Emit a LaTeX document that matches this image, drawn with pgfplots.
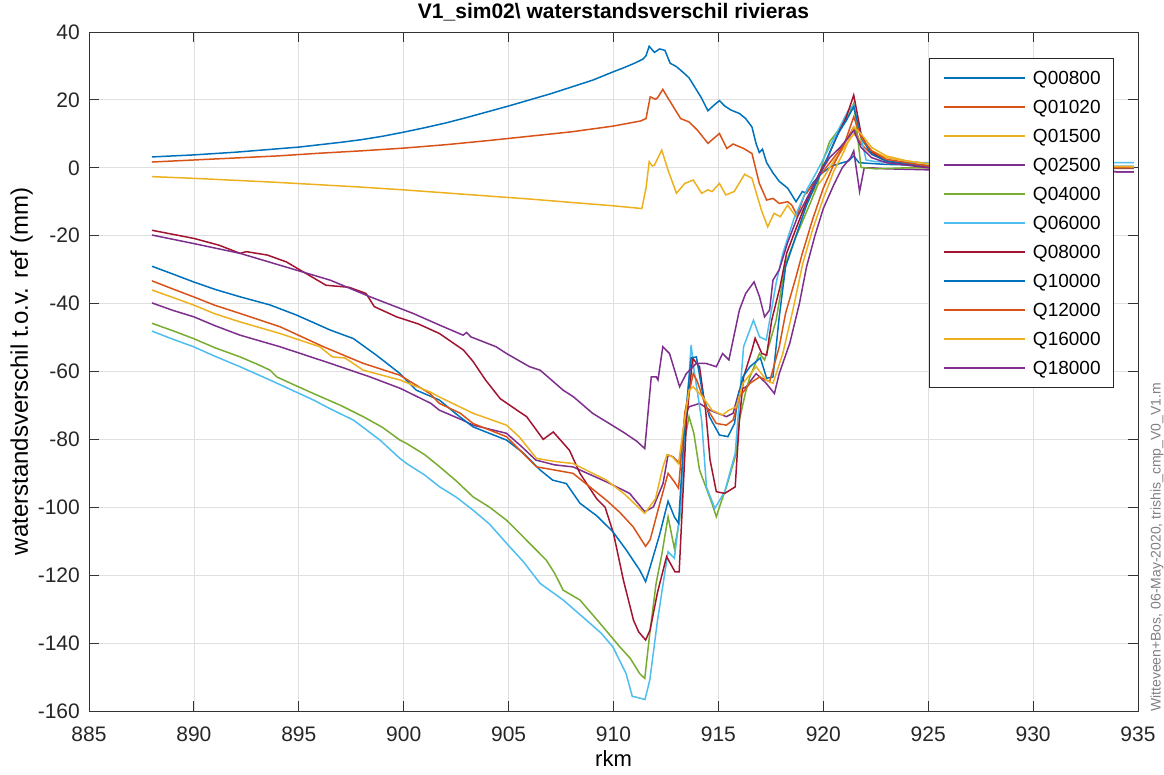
\documentclass[border=0pt]{standalone}
\usepackage{fontspec}
\setmainfont{Liberation Sans}
\usepackage{pgfplots}
\pgfplotsset{compat=1.18}
\definecolor{c1}{rgb}{0,0.447,0.741}
\definecolor{c2}{rgb}{0.85,0.325,0.098}
\definecolor{c3}{rgb}{0.929,0.694,0.125}
\definecolor{c4}{rgb}{0.494,0.184,0.556}
\definecolor{c5}{rgb}{0.466,0.674,0.188}
\definecolor{c6}{rgb}{0.301,0.745,0.933}
\definecolor{c7}{rgb}{0.635,0.078,0.184}
\definecolor{gridgray}{rgb}{0.875,0.875,0.875}
\definecolor{axgray}{rgb}{0.2,0.2,0.2}
\begin{document}
\begin{tikzpicture}
\begin{axis}[
  width=1049pt, height=679pt, scale only axis,
  xmin=885, xmax=935, ymin=-160, ymax=40,
  xtick={885,890,...,935}, ytick={-160,-140,...,40},
  grid=major, major grid style={color=gridgray, line width=0.8pt},
  axis line style={color=axgray, line width=0.9pt},
  tick style={color=axgray, line width=0.9pt},
  tick align=inside, major tick length=10pt, tick pos=both,
  /pgf/number format/assume math mode=true,
  ticklabel style={font=\fontsize{21}{25}\selectfont, inner sep=0pt, text=black!85},
  xticklabel shift=16pt, yticklabel shift=9pt,
  title={\bfseries V1\_sim02\textbackslash{} waterstandsverschil rivieras},
  title style={font=\fontsize{21}{25}\selectfont, at={(0.5,1)}, anchor=base, yshift=7pt, inner sep=0pt},
  xlabel={rkm},
  xlabel style={font=\fontsize{22}{26}\selectfont, at={(axis description cs:0.5,0)}, anchor=base, yshift=-55pt, inner sep=0pt},
  ylabel={waterstandsverschil t.o.v. ref (mm)},
  ylabel style={font=\fontsize{24}{28}\selectfont, at={(axis description cs:-0.0582,0.5)}, anchor=base, inner sep=0pt},
  legend cell align=left,
  legend image code/.code={\draw[#1] (0pt,0pt) -- (81pt,0pt);},
  legend style={at={(0.9771,0.9617)}, anchor=north east, draw=black!85, line width=0.8pt, fill=white,
    font=\fontsize{19}{22}\selectfont, inner xsep=13pt, inner ysep=12.5pt, row sep=15pt, column sep=7.7pt,
    nodes={inner sep=0pt, text height=14pt, text depth=0pt}},
]
\addplot[c1, line width=1.5pt] coordinates {(888.0,3.2) (889,3.5) (890,3.8) (891,4.2) (892,4.6) (893,5.1) (894,5.6) (895,6.1) (896,6.8) (897,7.5) (898,8.3) (899,9.3) (900,10.5) (901,11.8) (902,13.2) (903,14.8) (904,16.5) (905,18.2) (906,20.0) (907,21.8) (908,23.8) (909,25.8) (910,28.3) (910.5,29.5) (911.0,30.8) (911.4,32.0) (911.55,33) (911.7,35.8) (911.95,34.0) (912.2,35.0) (912.45,34.6) (912.7,30.8) (913.0,29.8) (913.3,28.2) (913.6,26.5) (913.9,23.5) (914.2,20.5) (914.5,16.8) (914.8,18.5) (915.05,19.8) (915.3,18.2) (915.6,17.0) (916.0,16.0) (916.3,14.5) (916.6,12.0) (916.8,7) (916.95,4.5) (917.1,5.5) (917.3,1.5) (917.6,-1.5) (917.9,-4.0) (918.3,-6.0) (918.7,-10.0) (919.0,-7.0) (919.2,-7.5) (919.5,-4.5) (919.9,-1.7) (920.4,0.5) (920.8,1.3) (921.2,2.0) (921.45,3.5) (921.7,1.5) (922.2,1.3) (923,1.0) (925,0.7) (930,0.5) (934.8,0.4)};
\addplot[c2, line width=1.5pt] coordinates {(888.0,1.7) (890,2.3) (892,2.9) (894,3.5) (896,4.3) (898,5.0) (900,5.8) (902,6.8) (904,8.0) (906,9.3) (908,10.6) (910,12.3) (911.3,13.8) (911.55,14.5) (911.75,20.9) (912.0,20.2) (912.1,20.6) (912.35,23.1) (912.6,20.5) (912.85,18.0) (913.2,14.5) (913.6,13.5) (914.0,11.1) (914.5,7.2) (915.05,10.1) (915.4,5.7) (915.7,7.0) (916.2,5.7) (916.6,4.2) (916.95,-4.6) (917.3,-9.5) (917.6,-9) (917.9,-10.5) (918.3,-10.0) (918.5,-11) (918.75,-14) (919.1,-8) (919.5,-5) (920.0,-1) (920.5,3) (921.0,7) (921.45,12) (921.8,7) (922.3,4) (923,2) (925,0.6) (930,0.2) (934.8,0.1)};
\addplot[c3, line width=1.5pt] coordinates {(888.0,-2.6) (890,-3.1) (892,-3.7) (894,-4.3) (896,-5.0) (898,-5.7) (900,-6.5) (902,-7.4) (904,-8.3) (906,-9.2) (908,-10.2) (910,-11.2) (911.35,-12) (911.55,-6) (911.7,1.8) (911.85,0.5) (911.95,0.8) (912.3,5.2) (912.6,-0.7) (913.0,-7.5) (913.4,-4.6) (913.8,-3.6) (914.2,-7.5) (914.5,-6.5) (914.7,-7) (915.05,-4.6) (915.35,-8) (915.75,-7) (916.25,-1.9) (916.6,-3.1) (917.05,-12.5) (917.35,-17.4) (917.65,-13.4) (917.95,-14.4) (918.3,-11) (918.7,-14.4) (919.1,-12) (919.5,-7) (920,-3) (920.5,2) (921,6) (921.45,10) (921.8,8) (922.3,5) (923,3) (924,2) (925,1.2) (930,0.6) (934.8,0.3)};
\addplot[c4, line width=1.5pt] coordinates {(888.0,-39.8) (889,-42) (890,-43.9) (891,-46.5) (892.2,-49.3) (894.1,-52.7) (896.5,-57.6) (898.4,-61.6) (899.85,-65) (901.3,-69.4) (901.7,-71.4) (902.8,-74.3) (903.3,-75.8) (904.9,-78.2) (905.6,-82) (906.3,-86.1) (907.2,-87.5) (908.07,-88.1) (909.66,-92.5) (910.77,-95.9) (911.49,-101.3) (911.9,-99.9) (912.36,-93) (912.6,-84.6) (912.83,-85.1) (913.12,-86.9) (913.3,-80) (913.4,-73.3) (913.6,-70.4) (914.1,-69.4) (914.6,-71.4) (915.38,-73.3) (915.7,-72.3) (916.0,-65.5) (916.33,-64.5) (916.8,-60.6) (917.28,-63.5) (917.67,-66.5) (917.9,-60.6) (918.4,-51.7) (918.86,-40) (919.2,-29.2) (919.6,-20) (920.0,-12) (920.5,-5) (920.9,0) (921.3,3) (921.45,5) (921.73,-7) (921.95,0) (922.3,0) (923,-0.3) (925,-0.6) (930,-1.0) (934.8,-1.2)};
\addplot[c5, line width=1.5pt] coordinates {(888,-45.8) (889,-48) (889.98,-50.3) (891,-53) (892.2,-55.7) (893.0,-57.8) (893.63,-59.6) (893.95,-61.6) (894.8,-64) (895.7,-66.5) (897,-70) (898.07,-73.3) (899,-76.5) (899.82,-80.2) (900.14,-81.2) (901.0,-84.5) (901.72,-88.1) (902.5,-92.2) (903.3,-96.9) (904.1,-100) (904.9,-103.8) (905.5,-107.5) (906.0,-110.6) (906.8,-115.6) (907.2,-119.5) (907.6,-124.4) (908.4,-127.3) (909.36,-134.2) (910.3,-141.1) (910.8,-144.5) (911.25,-149) (911.49,-150.4) (911.73,-137.1) (912.03,-122.4) (912.3,-114) (912.6,-102.8) (912.9,-112.1) (913.15,-103.8) (913.4,-80) (913.6,-73.3) (913.83,-78.2) (914.1,-89) (914.4,-94) (914.7,-99) (914.9,-102.8) (915.1,-99) (915.38,-94) (915.85,-84.1) (916.0,-74.3) (916.3,-66) (916.5,-61.6) (916.96,-54.7) (917.2,-56.6) (917.44,-51.7) (917.75,-44.9) (918.2,-28.2) (918.7,-20.3) (919.37,-10.5) (919.7,-5.6) (920.0,2.3) (920.3,7.7) (920.6,10.1) (921.1,14) (921.45,19) (921.8,0.1) (922.5,-0.3) (924,0) (930,0) (934.8,0)};
\addplot[c6, line width=1.5pt] coordinates {(888,-48.1) (889,-50.5) (889.98,-52.7) (891,-55.5) (892.2,-58.6) (893.8,-63) (895.7,-68.4) (896.5,-71) (897.6,-74.3) (898.87,-80.2) (899.82,-85.6) (900.14,-87.1) (901,-90.5) (901.72,-94) (902.5,-97) (903.3,-100.8) (904.1,-105) (904.9,-110.6) (905.7,-116) (906.5,-122.4) (907.6,-127.3) (908.7,-133.2) (909.4,-137) (909.97,-141.1) (910.6,-149) (910.9,-155.8) (911.0,-155.8) (911.5,-156.6) (911.73,-150.9) (912.1,-133.2) (912.6,-113.1) (912.9,-115) (913.2,-100) (913.5,-70) (913.7,-52.2) (913.85,-60) (914.2,-74.3) (914.43,-94) (914.83,-100.3) (915.3,-95.4) (915.8,-84.1) (916.2,-52.7) (916.67,-44.9) (916.96,-49.8) (917.28,-50.7) (917.75,-34) (918.07,-25.2) (918.6,-15) (919.2,-6.6) (919.7,-1) (920.2,5) (920.7,11) (921.2,17) (921.45,18.4) (922.04,2.3) (922.5,1.8) (925,1.5) (930,1.5) (934.8,1.5)};
\addplot[c7, line width=1.5pt] coordinates {(888,-18.4) (889,-19.6) (890,-20.8) (891.2,-22.8) (892.2,-25.2) (892.5,-24.7) (893.5,-25.7) (894.4,-27.7) (895.06,-30.1) (896.3,-34.6) (897.4,-35.2) (898.2,-37) (898.6,-40.9) (899.66,-43.9) (900.7,-46) (901.7,-48.8) (902.85,-53.7) (903.3,-57) (903.9,-62.5) (904.6,-68) (905.4,-71.4) (905.86,-73.3) (906.65,-80) (907.13,-77.8) (907.9,-83.2) (908.4,-90) (909.2,-97.5) (909.6,-100) (910,-107.7) (910.47,-121.4) (910.95,-133.2) (911.2,-136.7) (911.53,-139.1) (911.74,-136.2) (912.1,-125) (912.53,-114.5) (912.93,-119) (913.13,-119) (913.48,-74.3) (913.77,-56.1) (914.1,-58.6) (914.4,-72) (914.6,-86) (914.9,-95.4) (915.3,-95.9) (915.8,-94) (916.0,-74.3) (916.2,-61.6) (916.6,-53.7) (916.75,-50.2) (917.07,-54.7) (917.3,-55.2) (917.54,-44.9) (917.94,-35) (918.25,-25.2) (918.73,-17.4) (919.2,-10) (919.7,-3) (920.2,3) (920.7,10) (921.1,15) (921.45,21.4) (921.8,10) (922.2,5) (923,2) (924,1) (925,0.3) (930,0) (934.8,-0.2)};
\addplot[c1, line width=1.5pt] coordinates {(888,-29) (889,-31.3) (889.98,-33.6) (891,-35.8) (892.2,-38) (893.63,-40.4) (894.9,-43.4) (896.5,-47.8) (897.6,-50.3) (898.7,-55.2) (899.82,-60.6) (900.6,-65.5) (901.7,-68.4) (902.5,-72.5) (903.3,-76.3) (904.9,-80.2) (905.7,-84) (906.5,-89) (907.1,-92) (907.75,-93) (908.4,-98.8) (909.2,-102.5) (909.97,-107.2) (910.6,-112.5) (911.25,-118.5) (911.53,-121.9) (911.75,-117.5) (912.2,-108) (912.6,-98.2) (912.9,-102.8) (913.1,-104.7) (913.4,-75) (913.7,-56) (913.95,-55.7) (914.25,-66.5) (914.57,-73.3) (915.05,-78.7) (915.45,-79.2) (915.77,-75.3) (915.93,-67.5) (916.17,-61.6) (916.5,-58.6) (917.0,-56) (917.3,-62) (917.6,-61.6) (917.9,-43.9) (918.2,-29.2) (918.7,-20) (919.2,-11) (919.7,-4) (920.2,3) (920.7,10) (921.1,14) (921.45,18) (921.8,9) (922.3,4) (923,2) (925,0.5) (930,0) (934.8,0)};
\addplot[c2, line width=1.5pt] coordinates {(888,-33.3) (889,-35.7) (889.98,-38) (891,-40.5) (892.2,-42.9) (894.1,-46.8) (896.17,-52.7) (898.07,-57.6) (899.82,-61.1) (901.25,-66.5) (901.7,-69.4) (902.7,-72.3) (903.3,-75.3) (904.9,-79.2) (906.33,-88.1) (907,-88.8) (908.07,-90) (909.66,-97.9) (910.3,-101.5) (910.93,-105.7) (911.53,-111.5) (911.75,-109.5) (912.2,-99) (912.6,-90) (912.9,-92.5) (913.1,-94.4) (913.4,-72) (913.8,-60.6) (914.0,-63) (914.4,-70.4) (914.9,-75.3) (915.38,-75.8) (915.7,-74.3) (916,-67.5) (916.5,-63.5) (916.96,-61.6) (917.44,-63) (917.9,-52.7) (918.2,-42.9) (918.7,-32.1) (919.0,-25.2) (919.5,-15) (920.0,-6) (920.5,1) (921.0,7) (921.45,15) (921.8,9) (922.3,5) (923,2.5) (925,0.5) (930,0) (934.8,0)};
\addplot[c3, line width=1.5pt] coordinates {(888,-36) (889,-38.2) (889.98,-40.4) (891,-43) (892.2,-45.4) (894.1,-48.8) (896,-52.7) (896.6,-55.7) (897.2,-56) (898.07,-59.6) (899.82,-62.5) (901.25,-66) (901.7,-67.5) (903.3,-72.3) (904.9,-75.8) (905.5,-79.2) (906.33,-85.6) (907.2,-86.5) (908.07,-87.1) (909.66,-92) (910.5,-96) (911.49,-101.8) (912.0,-97.5) (912.36,-88) (912.55,-84.5) (912.8,-85.1) (913.1,-87.2) (913.3,-78) (913.6,-65.5) (913.8,-64.5) (914.25,-67.5) (914.7,-71.4) (915.2,-72.8) (915.5,-71.4) (915.85,-70.4) (916.17,-63.5) (916.8,-58.6) (917.28,-62.5) (917.6,-63.5) (918.07,-54.7) (918.55,-41.9) (919.02,-28.2) (919.5,-18) (920.0,-9) (920.5,-1) (921.0,5) (921.45,12) (921.8,10) (922.3,6) (923,3.5) (924,2) (925,1.2) (930,0.5) (934.8,0.3)};
\addplot[c4, line width=1.5pt] coordinates {(888,-19.8) (889.98,-22.3) (892.2,-25.2) (894.1,-28.7) (896.5,-33.1) (898.4,-38) (900.45,-42.9) (901.7,-46.3) (902.83,-49.3) (903.0,-48.5) (903.2,-49.8) (904.4,-52.7) (904.9,-54.7) (906,-58.6) (906.5,-59.6) (907.6,-65.5) (908.1,-67.5) (909.0,-72.3) (909.66,-74.8) (910.45,-77.8) (911.1,-80.5) (911.49,-82.7) (911.8,-61.6) (912.04,-61.6) (912.12,-62.5) (912.35,-52.7) (912.67,-54.7) (913.15,-64.5) (913.47,-60.6) (913.95,-57.6) (914.4,-57.6) (914.9,-58.6) (915.2,-54.7) (915.5,-56.6) (916,-41.9) (916.3,-37) (916.7,-33.6) (916.96,-38) (917.2,-43.9) (917.44,-41.9) (917.6,-33.1) (917.9,-30) (918.3,-22) (918.8,-14) (919.3,-8) (919.8,-2) (920.3,3) (920.8,6) (921.2,9) (921.45,11) (921.8,6) (922.3,3) (923,1.5) (925,0) (930,-1) (934.8,-1.2)};
\legend{Q00800,Q01020,Q01500,Q02500,Q04000,Q06000,Q08000,Q10000,Q12000,Q16000,Q18000}
\end{axis}
\node[rotate=90, anchor=base west, font=\fontsize{14}{16}\selectfont, text=black!50, inner sep=0pt] at (1071.5pt,-1pt) {Witteveen+Bos, 06-May-2020, trishis\_cmp\_V0\_V1.m};
\pgfresetboundingbox
\path[use as bounding box] (-89pt,-63pt) rectangle (1075pt,711pt);
\end{tikzpicture}
\end{document}
